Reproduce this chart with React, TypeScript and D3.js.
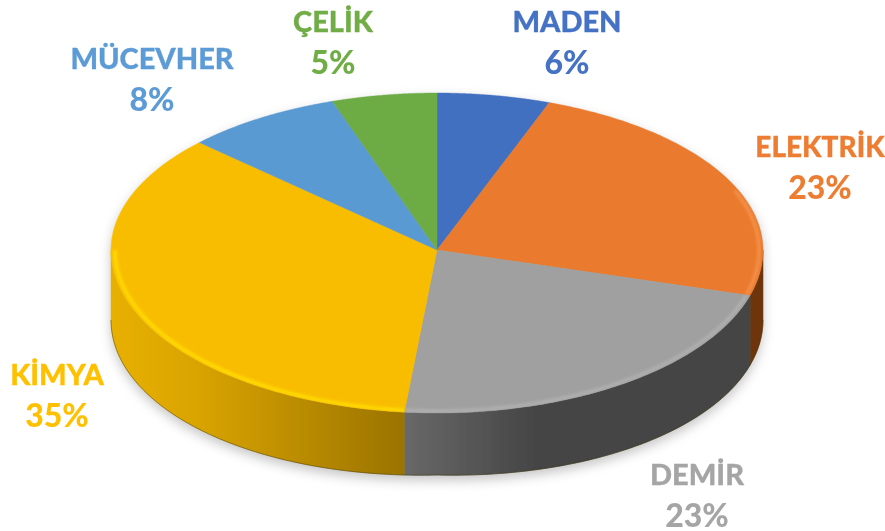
import React from "react";
import * as d3 from "d3";

const categories = ["MADEN", "ELEKTRİK", "DEMİR", "KİMYA", "MÜCEVHER", "ÇELİK"];
const percentLabels = [6, 23, 23, 35, 8, 5];
const sliceShares = [5.6, 23.9, 22.1, 35.4, 7.8, 5.2];
const faceColors = ["#4270c1", "#ea7a2d", "#a0a0a0", "#f9bd00", "#5a9ad3", "#6dab45"];
const textColors = ["#4472c4", "#ed7d31", "#a5a5a5", "#ffc000", "#5b9bd5", "#70ad47"];
const wallStops = [
  ["#2c4a80", "#2c4a80"],
  ["#8a4510", "#6e3608"],
  ["#686868", "#444444"],
  ["#e8b000", "#9a7300"],
  ["#3c6a92", "#3c6a92"],
  ["#4a7530", "#4a7530"],
];
const bevelColors = ["#5a88d8", "#f59450", "#b2b2b2", "#ffe000", "#74b0e4", "#88c460"];
const labelX = [567, 820, 697, 57, 152, 333];
const labelY = [32, 157, 485, 385, 69, 32];
const nameSizes = [29, 28, 29, 29, 29, 29];
const lineGap = 42;

const W = 885, H = 531;
const cx = 437, cy = 250, rx = 326, ryTop = 157, ryBottom = 163;

const depthAt = (a: number) => 62 + 8 * Math.abs(Math.sin(a));
const project = (a: number, r = 1): [number, number] => {
  const c = -Math.cos(a);
  return [cx + rx * r * Math.sin(a), cy + c * (c < 0 ? ryTop : ryBottom) * r];
};
const angles = (a0: number, a1: number) => d3.range(0, 91).map((i) => a0 + ((a1 - a0) * i) / 90);
const sample = (a0: number, a1: number, r = 1) => angles(a0, a1).map((a) => project(a, r));
const sampleBottom = (a0: number, a1: number) =>
  angles(a0, a1).map((a) => {
    const [x, y] = project(a);
    return [x, y + depthAt(a)] as [number, number];
  });
const line = d3.line();
const arcs = d3.pie<number>().sort(null)(sliceShares);

const slicePath = (a0: number, a1: number) => line([[cx, cy], ...sample(a0, a1)])! + "Z";

const wallPath = (a0: number, a1: number) => {
  const s = Math.max(a0, Math.PI / 2), e = Math.min(a1, (3 * Math.PI) / 2);
  if (s >= e) return null;
  return line([...sample(s, e), ...sampleBottom(s, e).reverse()])! + "Z";
};
const bevelPath = (a0: number, a1: number) => {
  const s = Math.max(a0, (3 * Math.PI) / 8), e = Math.min(a1, (3 * Math.PI) / 2);
  if (s >= e) return null;
  return line(sample(s, e, 0.988));
};
const silhouette =
  line([...sample(-Math.PI / 2, Math.PI / 2), ...sampleBottom(Math.PI / 2, (3 * Math.PI) / 2)])! + "Z";
const bottomEdge = line(sampleBottom(Math.PI / 2, (3 * Math.PI) / 2))!;

export default function App() {
  return (
    <svg width={W} height={H} style={{ position: "absolute", left: 0, top: 0, background: "#fff" }}>
      <defs>
        <filter id="shadow" x="-10%" y="-10%" width="120%" height="130%">
          <feGaussianBlur stdDeviation="6" />
        </filter>
        <filter id="soft" x="-5%" y="-5%" width="110%" height="110%">
          <feGaussianBlur stdDeviation="0.6" />
        </filter>
        <filter id="bevel" x="-5%" y="-5%" width="110%" height="110%">
          <feGaussianBlur stdDeviation="1.6" />
        </filter>
        {arcs.map((_, i) => (
          <linearGradient key={i} id={`w${i}`} gradientUnits="userSpaceOnUse" x1={i === 2 ? 405 : 110} x2={i === 2 ? 540 : 405} y1="0" y2="0">
            <stop offset="0" stopColor={wallStops[i][0]} />
            {i === 3 ? <stop offset="0.3" stopColor="#d9a400" /> : null}
            <stop offset="1" stopColor={wallStops[i][1]} />
          </linearGradient>
        ))}
        {arcs.map((d, i) => (
          <clipPath key={i} id={`c${i}`}>
            <path d={slicePath(d.startAngle, d.endAngle)} />
          </clipPath>
        ))}
      </defs>
      <path d={silhouette} fill="#8a8a8a" opacity={0.5} filter="url(#shadow)" transform="translate(0,5)" />
      <g filter="url(#soft)">
        {arcs.map((d, i) => {
          const p = wallPath(d.startAngle, d.endAngle);
          return p ? <path key={i} d={p} fill={`url(#w${i})`} stroke={`url(#w${i})`} strokeWidth={0.5} /> : null;
        })}
        <path d={bottomEdge} fill="none" stroke="#3a3000" strokeOpacity={0.45} strokeWidth={1} />
        {arcs.map((d, i) => (
          <path key={i} d={slicePath(d.startAngle, d.endAngle)} fill={faceColors[i]} stroke={faceColors[i]} strokeWidth={0.4} />
        ))}
        {arcs.map((d, i) => {
          const p = bevelPath(d.startAngle, d.endAngle);
          return p ? (
            <g key={i} clipPath={`url(#c${i})`}>
              <path d={p} fill="none" stroke={bevelColors[i]} strokeWidth={3} filter="url(#bevel)" />
            </g>
          ) : null;
        })}
        <g fontFamily="Lato, 'Open Sans', sans-serif" fontWeight={900} textAnchor="middle">
          {categories.map((c, i) => (
            <g key={c} fill={textColors[i]}>
              <text x={labelX[i]} y={labelY[i]} fontSize={nameSizes[i]} stroke={textColors[i]} strokeWidth={0.3}>{c}</text>
              <text x={labelX[i]} y={labelY[i] + lineGap} fontSize={32}>{percentLabels[i]}%</text>
            </g>
          ))}
        </g>
      </g>
    </svg>
  );
}
